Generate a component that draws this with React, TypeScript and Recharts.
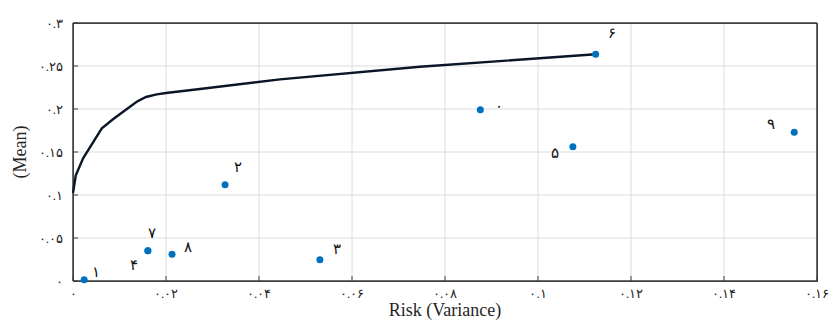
import React from "react";
import * as Recharts from "recharts";
import {
  ScatterChart,
  Scatter,
  XAxis,
  YAxis,
  CartesianGrid,
  ReferenceLine,
} from "recharts";

// assets: risk (variance) / mean return, labels are asset numbers
const assetLabels = ["۰", "۱", "۲", "۳", "۴", "۵", "۶", "۷", "۸", "۹"];
const assetRisk = [0.0876, 0.0024, 0.0327, 0.0531, 0.0161, 0.1075, 0.1124, 0.0161, 0.0213, 0.1551];
const assetMean = [0.199, 0.0015, 0.112, 0.0248, 0.0352, 0.156, 0.2636, 0.0352, 0.031, 0.173];

// efficient frontier
const frontierRisk = [0, 0.0006, 0.0022, 0.0062, 0.0086, 0.0137, 0.0157, 0.018, 0.02, 0.0273, 0.0445, 0.0746, 0.1124];
const frontierMean = [0.1023, 0.123, 0.143, 0.1776, 0.188, 0.2085, 0.214, 0.217, 0.2186, 0.2233, 0.2345, 0.2492, 0.2636];

const xTicks = [0, 0.02, 0.04, 0.06, 0.08, 0.1, 0.12, 0.14, 0.16];
const yTicks = [0, 0.05, 0.1, 0.15, 0.2, 0.25, 0.3];
const xDomain = [0, 0.16];
const yDomain = [0, 0.3];

// where each number sits relative to its dot
const LABEL_OFFSETS: Record<string, [number, number]> = {
  "۰": [19, -4],
  "۱": [12, -8],
  "۲": [13, -18],
  "۳": [17, -11],
  "۴": [-14, 14],
  "۵": [-18, 6],
  "۶": [16, -21],
  "۷": [4, -18],
  "۸": [16, -7],
  "۹": [-23, -8],
};

const FA_DIGITS = "۰۱۲۳۴۵۶۷۸۹";
const toFa = (v: number | string) =>
  String(v).replace(/[0-9]/g, (d) => FA_DIGITS[Number(d)]);

const assets = assetLabels.map((label, i) => ({
  x: assetRisk[i],
  y: assetMean[i],
  label,
}));
const frontier = frontierRisk.map((x, i) => ({ x, y: frontierMean[i] }));

const AXIS = "#404040";
const SERIF = "'Liberation Serif', 'DejaVu Serif', serif";
const tickStyle = { fill: "#262626", fontSize: 13, fontFamily: SERIF };
const axisLine = { stroke: AXIS, strokeWidth: 1 };
const tickLine = { stroke: AXIS, strokeWidth: 1 };

// box around the plot area (MATLAB "box on")
const usePlotAreaSafe: () => any = (Recharts as any).usePlotArea || (() => null);
function Frame() {
  const area = usePlotAreaSafe();
  if (!area) return null;
  return (
    <rect
      x={Math.round(area.x) + 0.5}
      y={Math.round(area.y) + 0.5}
      width={Math.round(area.width)}
      height={Math.round(area.height)}
      fill="none"
      stroke={AXIS}
      strokeWidth={1}
    />
  );
}

const AssetDot = (props: any) => {
  const { cx, cy, payload } = props;
  const [dx, dy] = LABEL_OFFSETS[payload.label] || [10, -10];
  return (
    <g>
      <circle cx={cx} cy={cy} r={3.5} fill="#0072BD" />
      <text
        x={cx + dx}
        y={cy + dy}
        textAnchor="middle"
        dominantBaseline="central"
        fontSize={15}
        fontFamily={SERIF}
        fill="#111"
      >
        {payload.label}
      </text>
    </g>
  );
};

const titleStyle: React.CSSProperties = {
  position: "absolute",
  fontFamily: SERIF,
  fontSize: 18,
  lineHeight: "18px",
  color: "#262626",
  textAlign: "center",
  whiteSpace: "nowrap",
};

export default function App() {
  return (
    <div style={{ position: "absolute", left: 0, top: 0, width: 831, height: 320, background: "#fff" }}>
      <ScatterChart
        width={831}
        height={320}
        margin={{ top: 22, right: 13, bottom: 0, left: 0 }}
      >
        <CartesianGrid stroke="#dcdcdc" />
        <XAxis
          type="number"
          dataKey="x"
          domain={xDomain}
          ticks={xTicks}
          height={39}
          tickSize={-5}
          tickMargin={13}
          tick={tickStyle}
          tickFormatter={toFa}
          axisLine={axisLine}
          tickLine={tickLine}
        />
        <YAxis
          type="number"
          dataKey="y"
          domain={yDomain}
          ticks={yTicks}
          width={73}
          tickSize={-5}
          tickMargin={15}
          tick={tickStyle}
          tickFormatter={toFa}
          axisLine={axisLine}
          tickLine={tickLine}
        />
        <XAxis
          xAxisId="top"
          orientation="top"
          type="number"
          dataKey="x"
          domain={xDomain}
          ticks={xTicks}
          height={1}
          tickSize={-5}
          tick={false}
          axisLine={axisLine}
          tickLine={tickLine}
        />
        <YAxis
          yAxisId="right"
          orientation="right"
          type="number"
          dataKey="y"
          domain={yDomain}
          ticks={yTicks}
          width={1}
          tickSize={-5}
          tick={false}
          axisLine={axisLine}
          tickLine={tickLine}
        />
        {xDomain.map((v) => (
          <ReferenceLine key={`fx${v}`} x={v} stroke={AXIS} strokeWidth={1} ifOverflow="visible" />
        ))}
        {yDomain.map((v) => (
          <ReferenceLine key={`fy${v}`} y={v} stroke={AXIS} strokeWidth={1} ifOverflow="visible" />
        ))}
        <Frame />
        <Scatter
          data={frontier}
          line={{ stroke: "#0a1626", strokeWidth: 2.4 }}
          lineType="joint"
          shape={() => null}
          isAnimationActive={false}
        />
        <Scatter
          xAxisId="top"
          yAxisId="right"
          data={frontier}
          shape={() => null}
          isAnimationActive={false}
        />
        <Scatter data={assets} shape={AssetDot} isAnimationActive={false} />
      </ScatterChart>
      <div style={{ ...titleStyle, left: 0, width: 890, top: 301 }}>Risk (Variance)</div>
      <div
        style={{
          ...titleStyle,
          left: -30,
          width: 100,
          top: 143,
          height: 18,
          transform: "rotate(-90deg)",
        }}
      >
        (Mean)
      </div>
    </div>
  );
}
